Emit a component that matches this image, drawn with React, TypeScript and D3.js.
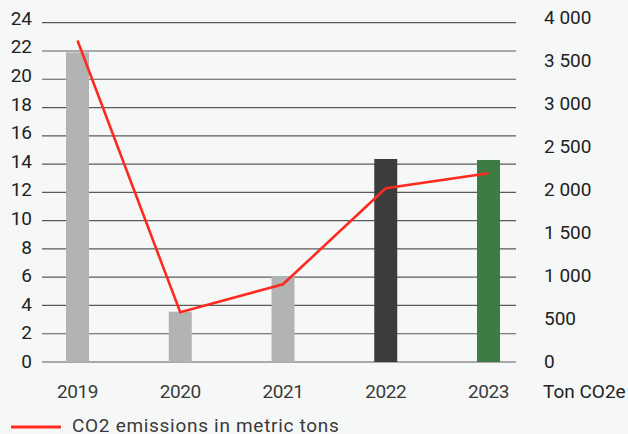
import React from "react";
import * as d3 from "d3";

// Years on the x axis
const years = ["2019", "2020", "2021", "2022", "2023"];
// Bar values (left axis units)
const barValues = [21.9, 3.56, 6.08, 14.36, 14.29];
const barColors = ["#b3b3b3", "#b3b3b3", "#b3b3b3", "#3c3c3c", "#3e7c45"];
// CO2 emissions in metric tons (right axis)
const co2Values = [3790, 586, 916, 2048, 2225];
// Tick labels
const leftTicks = [0, 2, 4, 6, 8, 10, 12, 14, 16, 18, 20, 22, 24];
const rightTicks = [0, 500, 1000, 1500, 2000, 2500, 3000, 3500, 4000];

const W = 628;
const H = 434;
const FONT = "Roboto, 'Noto Sans', sans-serif";

const fmtRight = (v: number) =>
  v >= 1000 ? `${Math.floor(v / 1000)} ${String(v % 1000).padStart(3, "0")}` : String(v);

export default function App() {
  const x = d3.scalePoint<string>().domain(years).range([77.5, 488.5]);
  const yLeft = d3.scaleLinear().domain([0, 24]).range([362, 22.7]);
  const yRight = d3.scaleLinear().domain([0, 4000]).range([362, 22.7]);
  // label centres sit slightly above their gridlines toward the top
  const yLeftLabel = d3.scaleLinear().domain([0, 24]).range([361, 18]);
  const yRightLabel = d3.scaleLinear().domain([0, 4000]).range([361, 17]);
  const barW = 23;

  const line = d3
    .line<number>()
    .x((_, i) => x(years[i]) as number)
    .y((d) => yRight(d));

  return (
    <svg
      width={W}
      height={H}
      style={{ position: "fixed", left: 0, top: 0, background: "#f6f8f7" }}
      fontFamily={FONT}
    >
      <rect x={0} y={0} width={W} height={H} fill="#f6f8f7" />
      {leftTicks.map((t) => (
        <line
          key={"g" + t}
          x1={42}
          x2={516}
          y1={yLeft(t)}
          y2={yLeft(t)}
          stroke="#5a5a5a"
          strokeWidth={1.2}
        />
      ))}
      {years.map((yr, i) => (
        <rect
          key={"b" + yr}
          x={(x(yr) as number) - barW / 2}
          y={yLeft(barValues[i])}
          width={barW}
          height={yLeft(0) - yLeft(barValues[i])}
          fill={barColors[i]}
        />
      ))}
      <path
        d={line(co2Values) || ""}
        fill="none"
        stroke="#ff2a1f"
        strokeWidth={2.6}
        strokeLinejoin="miter"
      />
      {leftTicks.map((t) => (
        <text
          key={"l" + t}
          x={32}
          y={yLeftLabel(t)}
          dy="0.36em"
          textAnchor="end"
          fontSize={19}
          fill="#222"
        >
          {t}
        </text>
      ))}
      {rightTicks.map((t) => (
        <text
          key={"r" + t}
          x={544}
          y={yRightLabel(t)}
          dy="0.36em"
          fontSize={19}
          fill="#222"
        >
          {fmtRight(t)}
        </text>
      ))}
      {years.map((yr) => (
        <text
          key={"y" + yr}
          x={x(yr) as number}
          y={397.5}
          textAnchor="middle"
          fontSize={19}
          fill="#3a3a3a"
          letterSpacing={-0.4}
        >
          {yr}
        </text>
      ))}
      <text x={543} y={397.5} fontSize={19} fill="#222">
        Ton CO2e
      </text>
      <line x1={11} x2={61} y1={427} y2={427} stroke="#ff2a1f" strokeWidth={3} />
      <text x={72} y={432} fontSize={19} fill="#3a3a3a" letterSpacing={0.7}>
        CO2 emissions in metric tons
      </text>
    </svg>
  );
}
